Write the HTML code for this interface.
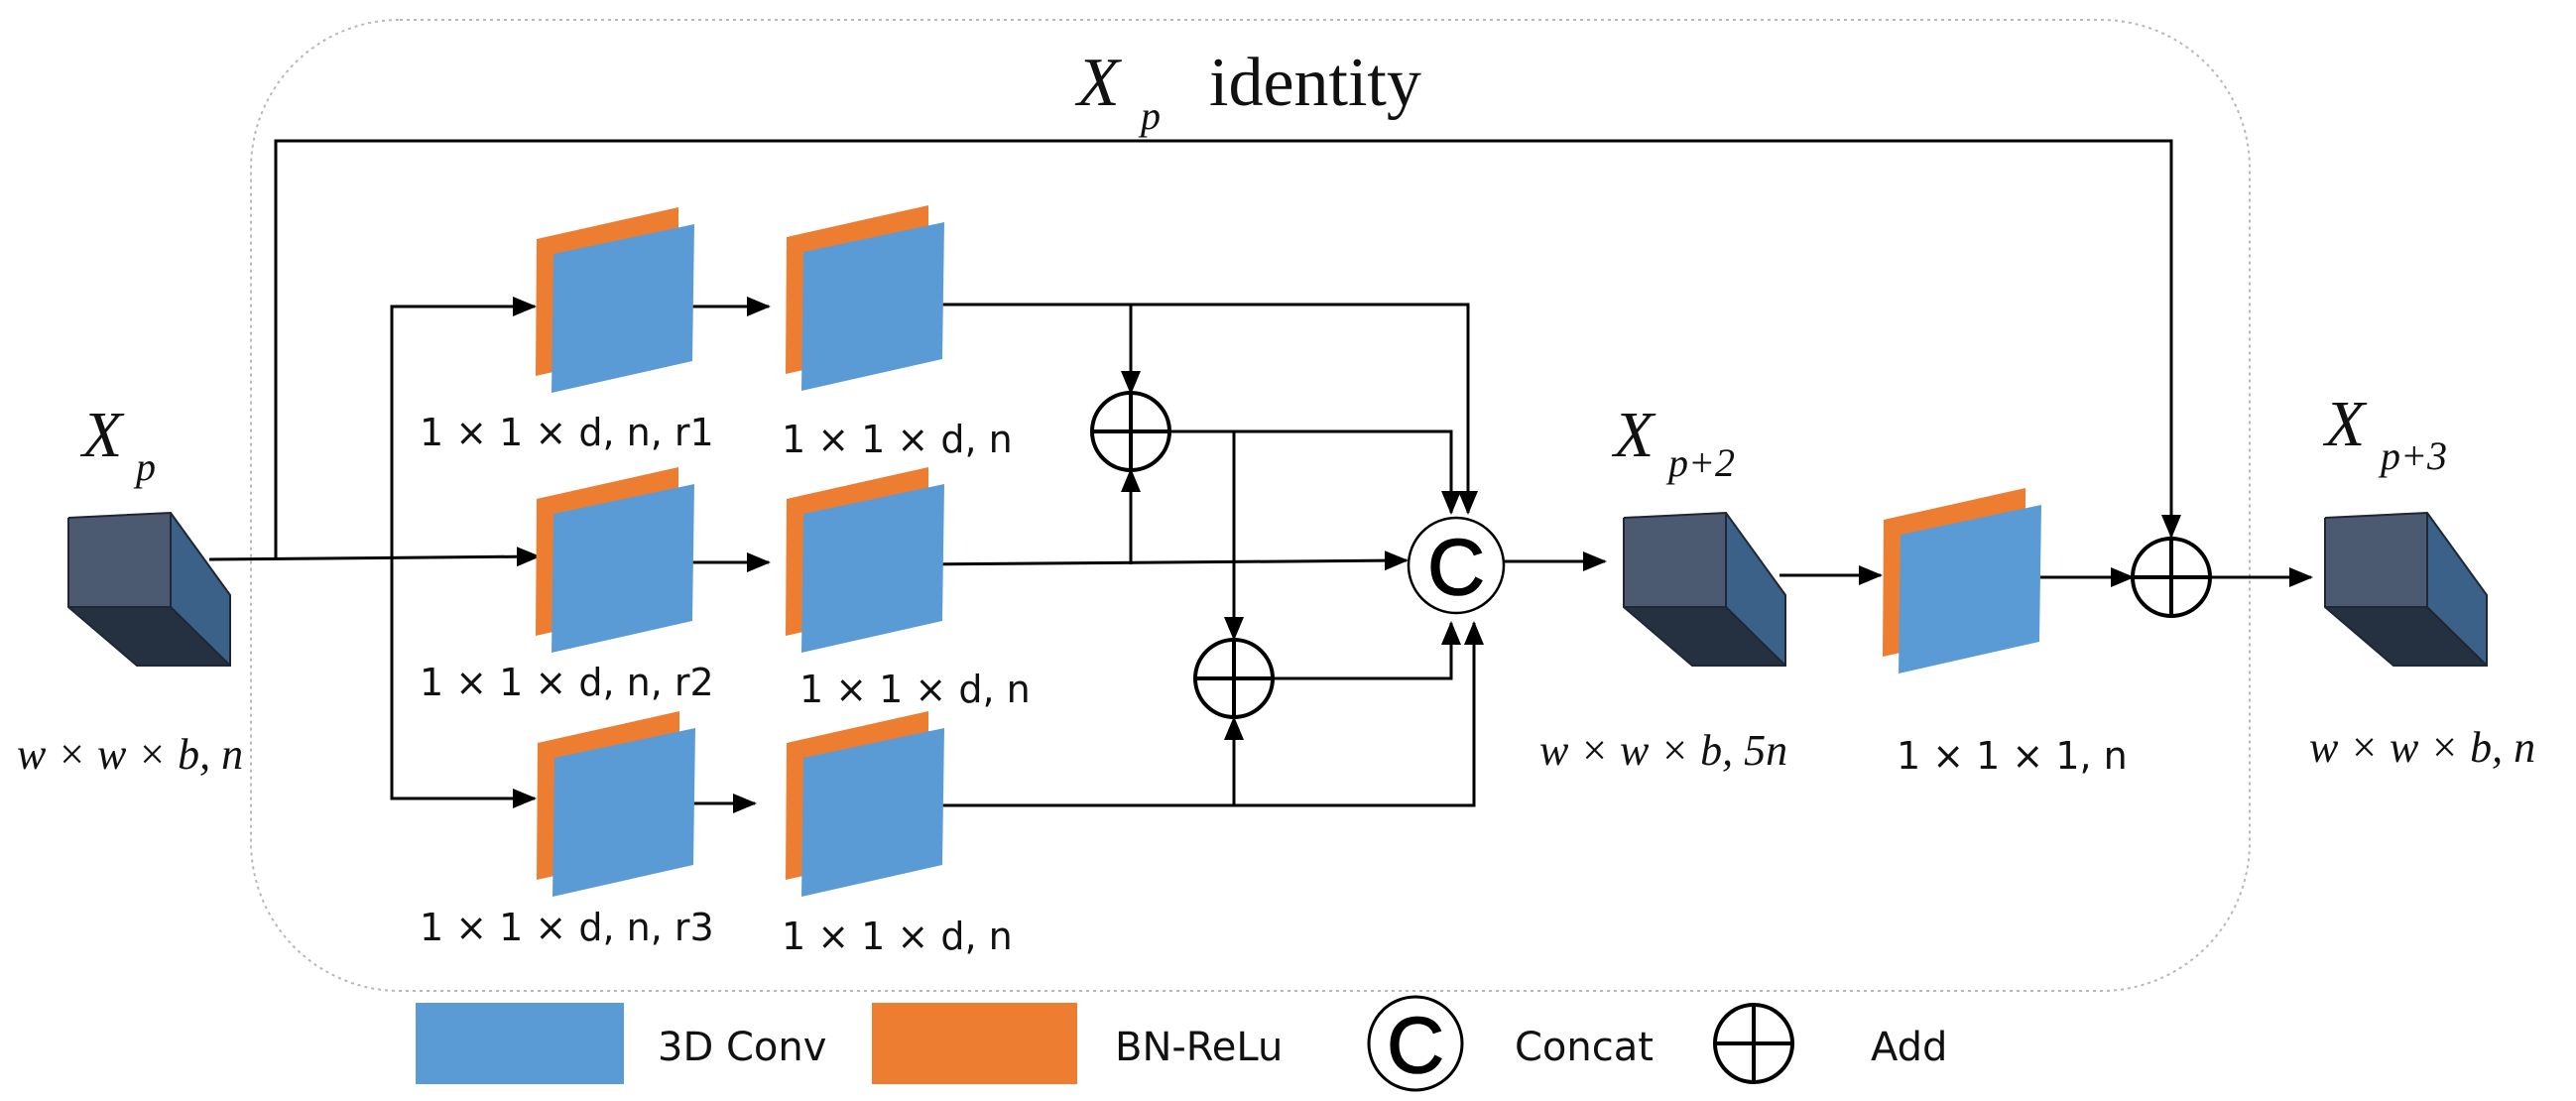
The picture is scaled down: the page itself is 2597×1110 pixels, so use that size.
<!DOCTYPE html>
<html><head><meta charset="utf-8"><style>
html,body{margin:0;padding:0;background:#fff;}
svg{display:block;}
.s{font-family:"DejaVu Sans","Liberation Sans",sans-serif;font-size:38px;fill:#111;}
.l{font-family:"DejaVu Sans","Liberation Sans",sans-serif;font-size:40px;fill:#111;}
.m{font-family:"Liberation Serif",serif;font-style:italic;font-size:44px;fill:#111;}
.t{font-family:"Liberation Serif",serif;fill:#111;}
</style></head><body>
<svg width="2597" height="1110" viewBox="0 0 2597 1110" xmlns="http://www.w3.org/2000/svg">
<defs>
<marker id="a" markerUnits="userSpaceOnUse" markerWidth="24" markerHeight="20" refX="22" refY="10" orient="auto">
<path d="M0,0 L24,10 L0,20 z" fill="#000"/></marker>
<g id="cube">
<polygon points="0,5 103,0 103,95 0,95" fill="#4b5a70"/>
<polygon points="103,0 163,83 163,154 103,95" fill="#3b6188"/>
<polygon points="0,95 103,95 163,154 69,154" fill="#253140"/>
<polyline points="0,5 103,0 163,83 163,154 69,154 0,95 0,5" fill="none" stroke="#1e2733" stroke-width="2"/>
<line x1="103" y1="0" x2="103" y2="95" stroke="#1e2733" stroke-width="2"/>
<polyline points="0,95 103,95 163,154" fill="none" stroke="#1e2733" stroke-width="2"/>
</g>
<g id="panel">
<polygon points="1,32 144,0 144,138 0,170" fill="#ed7d31"/>
<polygon points="18,47 160,17 158,155 16,187" fill="#5b9bd5"/>
</g>
<g id="add">
<circle cx="0" cy="0" r="39" fill="#fff" stroke="#000" stroke-width="4"/>
<line x1="-39" y1="0" x2="39" y2="0" stroke="#000" stroke-width="4"/>
<line x1="0" y1="-39" x2="0" y2="39" stroke="#000" stroke-width="4"/>
</g>
</defs>

<rect x="253" y="20" width="2015" height="979" rx="150" ry="150" fill="none" stroke="#b8b8b8" stroke-width="2" stroke-dasharray="3,4"/>

<text class="t" x="1086" y="106" font-size="70" font-style="italic">X</text>
<text class="t" x="1150" y="130" font-size="40" font-style="italic">p</text>
<text class="t" x="1219" y="106" font-size="70">identity</text>

<g stroke="#000" stroke-width="3" fill="none">
<polyline points="278,564 278,142 2189,142 2189,541" marker-end="url(#a)"/>
<line x1="211" y1="564" x2="543" y2="561" marker-end="url(#a)"/>
<polyline points="539,309 395,309 395,805 539,805" />
<line x1="395" y1="309" x2="539" y2="309" marker-end="url(#a)"/>
<line x1="395" y1="805" x2="539" y2="805" marker-end="url(#a)"/>
<line x1="672" y1="309" x2="775" y2="309" marker-end="url(#a)"/>
<line x1="672" y1="567" x2="775" y2="567" marker-end="url(#a)"/>
<line x1="659" y1="810" x2="761" y2="810" marker-end="url(#a)"/>
<polyline points="920,307 1480,307 1480,517" marker-end="url(#a)"/>
<line x1="1140" y1="307" x2="1140" y2="396" marker-end="url(#a)"/>
<line x1="920" y1="569" x2="1418" y2="565" marker-end="url(#a)"/>
<line x1="1140" y1="569" x2="1140" y2="474" marker-end="url(#a)"/>
<polyline points="1179,435 1463,435 1463,517" marker-end="url(#a)"/>
<line x1="1244" y1="435" x2="1244" y2="644" marker-end="url(#a)"/>
<polyline points="1283,684 1463,684 1463,628" marker-end="url(#a)"/>
<polyline points="920,812 1486,812 1486,628" marker-end="url(#a)"/>
<line x1="1244" y1="812" x2="1244" y2="724" marker-end="url(#a)"/>
<line x1="1517" y1="566" x2="1618" y2="566" marker-end="url(#a)"/>
<line x1="1794" y1="580" x2="1896" y2="580" marker-end="url(#a)"/>
<line x1="2036" y1="582" x2="2150" y2="582" marker-end="url(#a)"/>
<line x1="2228" y1="582" x2="2330" y2="582" marker-end="url(#a)"/>
</g>

<use href="#cube" x="69" y="517"/>
<use href="#cube" x="1637" y="517"/>
<use href="#cube" x="2344" y="517"/>

<use href="#panel" x="540" y="209"/>
<use href="#panel" x="792" y="207"/>
<use href="#panel" x="540" y="471"/>
<use href="#panel" x="792" y="471"/>
<use href="#panel" x="541" y="717"/>
<use href="#panel" x="792" y="717"/>
<use href="#panel" x="1898" y="492"/>

<use href="#add" x="1140" y="435"/>
<use href="#add" x="1244" y="684"/>
<use href="#add" x="2189" y="582"/>

<circle cx="1468" cy="570" r="48" fill="#fff" stroke="#000" stroke-width="2.5"/>
<text x="1468" y="599" text-anchor="middle" font-family="Liberation Sans,sans-serif" font-size="80" fill="#000" stroke="#000" stroke-width="1.5">C</text>

<text class="t" x="83" y="460" font-size="66" font-style="italic">X</text>
<text class="t" x="137" y="484" font-size="40" font-style="italic">p</text>
<text class="m" x="17" y="775">w × w × b, n</text>

<text class="t" x="1627" y="460" font-size="66" font-style="italic">X</text>
<text class="t" x="1682" y="480" font-size="40" font-style="italic">p+2</text>
<text class="m" x="1552" y="771">w × w × b, 5n</text>

<text class="t" x="2344" y="449" font-size="66" font-style="italic">X</text>
<text class="t" x="2400" y="473" font-size="40" font-style="italic">p+3</text>
<text class="m" x="2328" y="768">w × w × b, n</text>

<text class="s" x="423" y="449">1 × 1 × d, n, r1</text>
<text class="s" x="788" y="456">1 × 1 × d, n</text>
<text class="s" x="423" y="701">1 × 1 × d, n, r2</text>
<text class="s" x="806" y="708">1 × 1 × d, n</text>
<text class="s" x="423" y="948">1 × 1 × d, n, r3</text>
<text class="s" x="788" y="957">1 × 1 × d, n</text>
<text class="s" x="1912" y="775">1 × 1 × 1, n</text>

<rect x="419" y="1011" width="210" height="82" fill="#5b9bd5"/>
<text class="l" x="663" y="1069">3D Conv</text>
<rect x="879" y="1011" width="207" height="82" fill="#ed7d31"/>
<text class="l" x="1124" y="1069">BN-ReLu</text>
<circle cx="1427" cy="1052" r="47" fill="#fff" stroke="#000" stroke-width="3"/>
<text x="1427" y="1081" text-anchor="middle" font-family="Liberation Sans,sans-serif" font-size="80" fill="#000" stroke="#000" stroke-width="1.5">C</text>
<text class="l" x="1527" y="1069">Concat</text>
<use href="#add" x="1768" y="1052"/>
<text class="l" x="1886" y="1069">Add</text>
</svg>
</body></html>
